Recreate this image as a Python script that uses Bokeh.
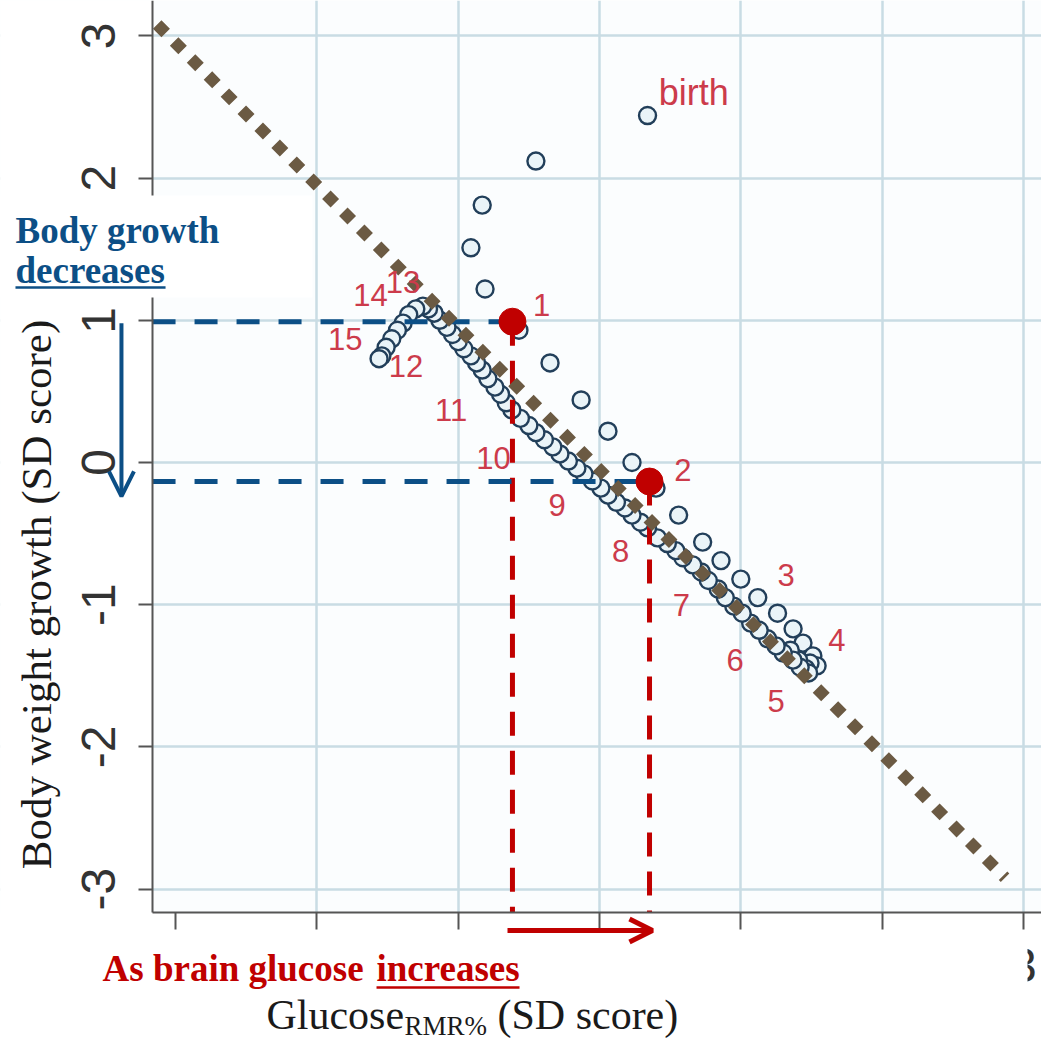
from math import pi
from bokeh.plotting import figure
from bokeh.models import FixedTicker, Label, Arrow, OpenHead, BoxAnnotation
from bokeh.core.properties import value
from bokeh.embed import file_html
from bokeh.resources import INLINE

# ---------------- data ----------------
# Monthly trajectory from birth (age 0) to age 15, in SD scores
glucose_sd = [0.34, -0.45, -0.83, -0.91, -0.81, -0.57, -0.35, -0.13, 0.06, 0.23,
              0.40, 0.56, 0.73, 0.86, 1.00, 1.12, 1.26, 1.37, 1.44, 1.51, 1.54,
              1.49, 1.46, 1.41, 1.35,
              1.48, 1.42, 1.37, 1.30, 1.25, 1.19, 1.13, 1.07, 1.01, 0.95,
              0.89, 0.84, 0.77, 0.72, 0.66, 0.59, 0.54, 0.48, 0.41, 0.34,
              0.29, 0.23, 0.18, 0.12, 0.06, 0.01, -0.05, -0.11, -0.16, -0.22,
              -0.28, -0.33, -0.39, -0.45, -0.50, -0.56, -0.62, -0.66, -0.70, -0.74,
              -0.79, -0.83, -0.87, -0.91, -0.96, -1.00, -1.04, -1.08, -1.13, -1.17,
              -1.21, -1.25, -1.30, -1.35, -1.39, -1.43, -1.47, -1.51, -1.54, -1.56]
weight_sd = [2.44, 2.12, 1.81, 1.51, 1.22, 0.93, 0.70, 0.44, 0.22, 0.00,
             -0.18, -0.37, -0.56, -0.69, -0.82, -0.95, -1.06, -1.17, -1.27, -1.36, -1.43,
             -1.41, -1.45, -1.39, -1.32,
             -1.48, -1.44, -1.39, -1.34, -1.29, -1.24, -1.18, -1.13, -1.06, -1.01,
             -0.95, -0.89, -0.83, -0.77, -0.72, -0.67, -0.62, -0.57, -0.53, -0.46,
             -0.42, -0.37, -0.32, -0.28, -0.23, -0.18, -0.13, -0.08, -0.04, 0.01,
             0.06, 0.11, 0.16, 0.21, 0.26, 0.31, 0.37, 0.42, 0.48, 0.53,
             0.59, 0.65, 0.70, 0.75, 0.80, 0.85, 0.90, 0.95, 1.00, 1.05,
             1.08, 1.10, 1.08, 1.04, 0.98, 0.93, 0.87, 0.81, 0.75, 0.73]

age_labels = ["1", "2", "3", "4", "5", "6", "7", "8", "9", "10", "11", "12", "13", "14", "15"]
age_label_x = [-0.41, 0.59, 1.32, 1.68, 1.25, 0.96, 0.58, 0.15, -0.30, -0.75,
               -1.05, -1.37, -1.39, -1.62, -1.80]
age_label_y = [1.11, -0.05, -0.79, -1.25, -1.68, -1.39, -1.00, -0.62, -0.30, 0.03,
               0.37, 0.68, 1.27, 1.18, 0.87]
birth_label_x = [0.42]
birth_label_y = [2.60]

axis_ticks = [-3, -2, -1, 0, 1, 2, 3]
x_grid_ticks = [-2, -1, 0, 1, 2, 3]
tick_texts = {-3: "-3", -2: "-2", -1: "-1", 0: "0", 1: "1", 2: "2", 3: "3"}

trend_x = [-3.13, 2.87]
trend_y = [3.08, -2.92]

# highlighted ages 1 and 2
marked_x = [-0.616, 0.354]
marked_y = [0.99, -0.134]

# plot region (axes) and whole canvas extent, in data units
AX_X0, AX_X1 = -3.163, 3.128
AX_Y0, AX_Y1 = -3.165, 3.249
CANVAS_X = (-4.239, 3.128)
CANVAS_Y = (-4.086, 3.249)

BLUE = "#0c4f86"
RED = "#c00000"

p = figure(width=1041, height=1043, x_range=CANVAS_X, y_range=CANVAS_Y,
           output_backend="svg", toolbar_location=None,
           min_border=0, min_border_left=0, min_border_bottom=0,
           min_border_top=0, min_border_right=0,
           background_fill_color="#fbfdfe", border_fill_color="white",
           outline_line_color=None)

# axes placed at the plot-region edges
p.yaxis.fixed_location = AX_X0
p.yaxis.bounds = (AX_Y0, AX_Y1)
p.xaxis.fixed_location = AX_Y0
p.xaxis.bounds = (AX_X0, AX_X1)
for ax in (p.xaxis[0], p.yaxis[0]):
    ax.ticker = FixedTicker(ticks=axis_ticks)
    ax.major_label_overrides = tick_texts
    ax.axis_line_color = "#555555"
    ax.axis_line_width = 2
    ax.major_tick_line_color = "#555555"
    ax.major_tick_line_width = 2
    ax.minor_tick_line_color = None
    ax.major_tick_in = 0
p.yaxis.major_tick_out = 14
p.xaxis.major_tick_out = 17
p.yaxis.major_label_orientation = "vertical"
p.yaxis.major_label_text_font = "Liberation Sans"
p.yaxis.major_label_text_font_size = "48px"
p.yaxis.major_label_text_color = "#333333"
p.yaxis.major_label_standoff = 24
p.xaxis.major_label_text_color = None
p.xaxis.major_label_text_font_size = "10px"

p.xgrid.ticker = FixedTicker(ticks=x_grid_ticks)
p.ygrid.ticker = FixedTicker(ticks=axis_ticks)
p.grid.grid_line_color = "#c9dce4"
p.grid.grid_line_width = 2.5

# white margins outside the plot region (drawn over the grid, under the axes)
p.add_layout(BoxAnnotation(left=-10, right=AX_X0, top=10, bottom=-10, level="underlay",
                           fill_color="white", fill_alpha=1, line_color=None))
p.add_layout(BoxAnnotation(left=-10, right=10, top=AX_Y0, bottom=-10, level="underlay",
                           fill_color="white", fill_alpha=1, line_color=None))

# trajectory
p.scatter(glucose_sd, weight_sd, marker="circle", size=17, line_color="#223f5a",
          line_width=2.4, fill_color="#eaf4f8")

# guides from the two highlighted points
p.segment(x0=marked_x, y0=marked_y, x1=marked_x, y1=[AX_Y0, AX_Y0],
          line_color=RED, line_width=5, line_dash="24 15")
p.segment(x0=[AX_X0, AX_X0], y0=marked_y, x1=marked_x, y1=marked_y,
          line_color=BLUE, line_width=5, line_dash="23 19")

# dotted trend line
p.line(trend_x, trend_y, line_color="#6b5a43", line_width=12, line_dash="12 12",
       line_cap="butt")

# highlighted points
p.scatter(marked_x, marked_y, marker="circle", size=27, fill_color=RED, line_color=RED)

# age labels
p.text(age_label_x, age_label_y, text=age_labels, text_font=value("Liberation Sans"),
       text_font_size="31px", text_color="#cc3b4b", text_align="center",
       text_baseline="middle")
p.text(birth_label_x, birth_label_y, text=["birth"], text_font=value("Liberation Sans"),
       text_font_size="36px", text_color="#cc3b4b", text_align="left",
       text_baseline="middle")

# partial x tick label at the right edge
p.add_layout(Label(x=3.0, y=-3.537, text="3", text_font="Liberation Sans",
                   text_font_size="48px", text_color="#333333",
                   text_align="center", text_baseline="middle"))

# white boxes behind the annotation texts
p.add_layout(BoxAnnotation(left=-5, right=-2.031, top=1.878, bottom=1.160,
                           fill_color="white", fill_alpha=1, line_color=None))
p.add_layout(BoxAnnotation(left=-5, right=3.029, top=-3.347, bottom=-3.80,
                           fill_color="white", fill_alpha=1, line_color=None))

# y axis title
p.add_layout(Label(x=-3.984, y=-0.928, text="Body weight growth (SD score)", angle=pi / 2,
                   text_font="Liberation Serif", text_font_size="43px",
                   text_color="#1a1a1a", text_align="center", text_baseline="middle"))

# x axis title
p.add_layout(Label(x=-2.357, y=-3.889, text="Glucose", text_font="Liberation Serif",
                   text_font_size="42px", text_color="#1a1a1a",
                   text_align="left", text_baseline="middle"))
p.add_layout(Label(x=-1.380, y=-3.966, text="RMR%", text_font="Liberation Serif",
                   text_font_size="27px", text_color="#1a1a1a",
                   text_align="left", text_baseline="middle"))
p.add_layout(Label(x=-0.722, y=-3.889, text="(SD score)", text_font="Liberation Serif",
                   text_font_size="42px", text_color="#1a1a1a",
                   text_align="left", text_baseline="middle"))

# blue annotation
p.add_layout(Label(x=-4.133, y=1.63, text="Body growth", text_font="Liberation Serif",
                   text_font_style="bold", text_font_size="37px", text_color=BLUE,
                   text_align="left", text_baseline="middle"))
p.add_layout(Label(x=-4.133, y=1.35, text="decreases", text_font="Liberation Serif",
                   text_font_style="bold", text_font_size="37px", text_color=BLUE,
                   text_align="left", text_baseline="middle"))
p.add_layout(Arrow(end=None, x_start=-4.133, y_start=1.231, x_end=-3.071, y_end=1.231,
                   line_color=BLUE, line_width=2.5))
p.add_layout(Arrow(end=OpenHead(size=25, line_color=BLUE, line_width=4),
                   x_start=-3.383, y_start=0.98, x_end=-3.383, y_end=-0.239,
                   line_color=BLUE, line_width=4))

# red annotation
p.add_layout(Label(x=-3.517, y=-3.558, text="As brain glucose", text_font="Liberation Serif",
                   text_font_style="bold", text_font_size="37px", text_color=RED,
                   text_align="left", text_baseline="middle"))
p.add_layout(Label(x=-1.578, y=-3.558, text="increases", text_font="Liberation Serif",
                   text_font_style="bold", text_font_size="37px", text_color=RED,
                   text_align="left", text_baseline="middle"))
p.add_layout(Arrow(end=None, x_start=-1.578, y_start=-3.692, x_end=-0.566, y_end=-3.692,
                   line_color=RED, line_width=2.5))
p.add_layout(Arrow(end=OpenHead(size=23, line_color=RED, line_width=5),
                   x_start=-0.651, y_start=-3.291, x_end=0.375, y_end=-3.291,
                   line_color=RED, line_width=5))

open("out.html", "w").write(file_html(p, INLINE))
